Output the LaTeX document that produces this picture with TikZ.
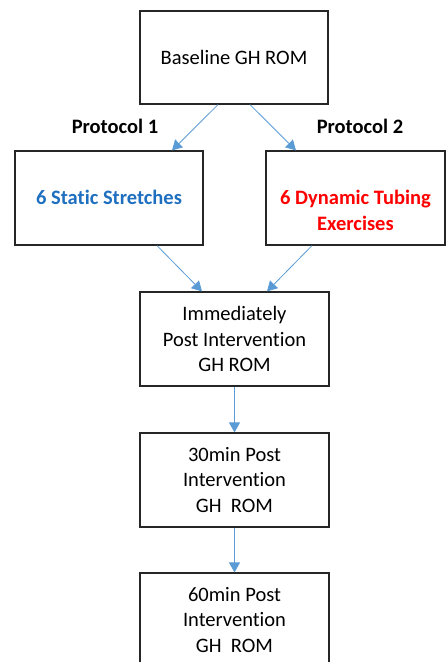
\documentclass[tikz,border=0pt]{standalone}
\usepackage{fontspec}
\setmainfont[Ligatures=NoCommon]{Carlito}
\usetikzlibrary{arrows.meta}
\definecolor{arrowblue}{HTML}{5B9BD5}
\definecolor{textblue}{HTML}{1F6FC0}
\definecolor{textred}{HTML}{FF0000}
\begin{document}
\begin{tikzpicture}[x=1pt,y=-1pt,
    font=\fontsize{20.5}{25.5}\selectfont,
    box/.style={draw=black!85,line width=1.2pt,minimum width=188pt,minimum height=93pt,align=center,inner sep=0pt},
    link/.style={draw=arrowblue,line width=0.8pt,-{Triangle[length=10pt,width=11pt]}}]
  \useasboundingbox (0,0) rectangle (446,662);

  \node[box] (base) at (234,57.5) {Baseline GH ROM};
  \node[box,minimum height=94pt] (static) at (109,198) {};
  \node[box,minimum width=179pt,minimum height=94pt] (dynamic) at (355.5,198) {};
  \node[font=\fontsize{20.5}{25.5}\bfseries,text=textblue] (statictxt) at (109,197) {6 Static Stretches};
  \node[font=\fontsize{20.5}{25.5}\bfseries,text=textred,align=center,anchor=north] (dynamictxt) at (355.5,187) {6 Dynamic Tubing\\Exercises};
  \node[font=\fontsize{20.5}{25.5}\bfseries] (prot1) at (115,126) {Protocol 1};
  \node[font=\fontsize{20.5}{25.5}\bfseries] (prot2) at (360,126) {Protocol 2};
  \node[box,minimum width=189pt,minimum height=94pt] (post0) at (234.5,339) {Immediately\\Post Intervention\\GH ROM};
  \node[box,minimum width=189pt,minimum height=94pt] (post30) at (234.5,480) {30min Post\\Intervention\\GH\ \ ROM};
  \node[box,minimum width=189pt,minimum height=94pt] (post60) at (234.5,620) {60min Post\\Intervention\\GH\ \ ROM};

  \draw[link] ([xshift=-16pt]base.south) -- ([xshift=63pt]static.north);
  \draw[link] ([xshift=16pt]base.south) -- ([xshift=-59.5pt]dynamic.north);
  \draw[link] ([xshift=48pt]static.south) -- ([xshift=-32.5pt]post0.north);
  \draw[link] ([xshift=-43.5pt]dynamic.south) -- ([xshift=32.5pt]post0.north);
  \draw[link] (post0) -- (post30);
  \draw[link] (post30) -- (post60);
\end{tikzpicture}
\end{document}
